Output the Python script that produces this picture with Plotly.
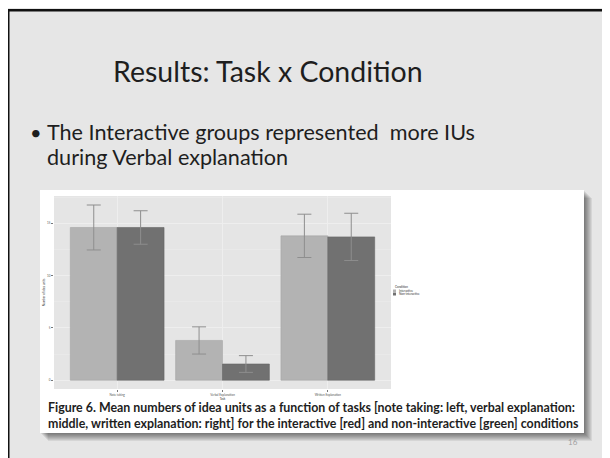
import plotly.graph_objects as go

# ---- data ----
tasks = ["Note taking", "Verbal Explanation", "Written Explanation"]
conditions = ["Interactive", "Non-interactive"]
interactive = [14.6, 3.8, 13.8]
interactive_err = [2.15, 1.3, 2.07]
noninteractive = [14.6, 1.55, 13.7]
noninteractive_err = [1.6, 0.8, 2.26]
y_ticks = [0, 5, 10, 15]

# the page body keeps its default 8px margin, so the figure fills the rest
W, H = 602, 450
OFF = 8
FONT = "Lato"


def px(x):
    return (x - OFF) / W


def py(y):
    return 1 - (y - OFF) / H


fig = go.Figure()
fig.add_trace(go.Bar(
    name=conditions[0], x=tasks, y=interactive,
    marker=dict(color="#b3b3b3", line=dict(color="#a6a6a6", width=0.6)),
    error_y=dict(type="data", array=interactive_err, color="#8e8e8e", thickness=1, width=7),
    showlegend=False,
))
fig.add_trace(go.Bar(
    name=conditions[1], x=tasks, y=noninteractive,
    marker=dict(color="#717171", line=dict(color="#666666", width=0.6)),
    error_y=dict(type="data", array=noninteractive_err, color="#8e8e8e", thickness=1, width=7),
    showlegend=False,
))

shapes = []
# shadow of the embedded picture
for k in range(1, 9):
    shapes.append(dict(type="rect", xref="paper", yref="paper", layer="below",
                       x0=px(40 + k), x1=px(584 + k), y0=py(433 + k), y1=py(190 + k),
                       line=dict(width=0), fillcolor="rgba(0,0,0,0.07)"))
# white picture
shapes.append(dict(type="rect", xref="paper", yref="paper", layer="below",
                   x0=px(40), x1=px(584), y0=py(433), y1=py(190),
                   line=dict(width=0), fillcolor="#ffffff"))
# panel background
shapes.append(dict(type="rect", xref="paper", yref="paper", layer="below",
                   x0=px(54), x1=px(391), y0=py(389), y1=py(196),
                   line=dict(width=0), fillcolor="#e5e5e5"))
# slide border (left and top)
shapes.append(dict(type="rect", xref="paper", yref="paper", layer="above",
                   x0=0, x1=px(9.5), y0=0, y1=py(9),
                   line=dict(width=0), fillcolor="#111111"))
shapes.append(dict(type="rect", xref="paper", yref="paper", layer="above",
                   x0=0, x1=1, y0=py(11.5), y1=py(9),
                   line=dict(width=0), fillcolor="#111111"))
# legend keys
shapes.append(dict(type="rect", xref="paper", yref="paper", layer="above",
                   x0=px(393), x1=px(396), y0=py(292), y1=py(289.5),
                   line=dict(width=0), fillcolor="#b3b3b3"))
shapes.append(dict(type="rect", xref="paper", yref="paper", layer="above",
                   x0=px(393), x1=px(396), y0=py(295.5), y1=py(292.5),
                   line=dict(width=0), fillcolor="#717171"))

annotations = [
    dict(text="Results: Task x Condition", x=px(267.5), y=py(71), xanchor="center", yanchor="middle",
         font=dict(family=FONT, size=28.5, color="#1e1e1e")),
    dict(text="•", x=px(28), y=py(132), xanchor="left", yanchor="middle",
         font=dict(family=FONT, size=20, color="#1e1e1e")),
    dict(text="The Interactive groups represented  more IUs", x=px(45), y=py(132), xanchor="left",
         yanchor="middle", font=dict(family=FONT, size=21.6, color="#1e1e1e")),
    dict(text="during Verbal explanation", x=px(45), y=py(157), xanchor="left",
         yanchor="middle", font=dict(family=FONT, size=21.6, color="#1e1e1e")),
    dict(text="<b>Figure 6. Mean numbers of idea units as a function of tasks [note taking: left, verbal explanation:</b>",
         x=px(46), y=py(407), xanchor="left", yanchor="middle",
         font=dict(family=FONT, size=12.4, color="#1e1e1e")),
    dict(text="<b>middle, written explanation: right] for the interactive [red] and non-interactive [green] conditions</b>",
         x=px(46), y=py(423), xanchor="left", yanchor="middle",
         font=dict(family=FONT, size=12.4, color="#1e1e1e")),
    dict(text="16", x=px(573), y=py(442), xanchor="center", yanchor="middle",
         font=dict(family=FONT, size=8, color="#a0a0a0")),
    # legend text
    dict(text="Condition", x=px(392.5), y=py(287), xanchor="left", yanchor="middle",
         font=dict(family=FONT, size=3, color="#333333")),
    dict(text=conditions[0], x=px(397), y=py(290.7), xanchor="left", yanchor="middle",
         font=dict(family=FONT, size=3, color="#333333")),
    dict(text=conditions[1], x=px(397), y=py(294), xanchor="left", yanchor="middle",
         font=dict(family=FONT, size=3, color="#333333")),
]
for a in annotations:
    a.update(xref="paper", yref="paper", showarrow=False)

fig.update_layout(
    width=W, height=H,
    margin=dict(l=0, r=0, t=0, b=0),
    paper_bgcolor="#e6e6e6",
    plot_bgcolor="rgba(0,0,0,0)",
    barmode="group", bargap=0.11, bargroupgap=0,
    shapes=shapes, annotations=annotations,
    showlegend=False,
    xaxis=dict(domain=[px(54), px(391)], range=[-0.6, 2.6], showgrid=True, gridcolor="#eeeeee",
               gridwidth=1, zeroline=False, ticks="outside", ticklen=2, tickcolor="#777777",
               tickfont=dict(family=FONT, size=3, color="#555555"),
               title=dict(text="Task", font=dict(family=FONT, size=3, color="#333333"), standoff=1)),
    yaxis=dict(domain=[py(389), py(196)], range=[-0.84, 17.61], tickvals=y_ticks, showgrid=True,
               gridcolor="#eeeeee", gridwidth=1, zeroline=False, ticks="outside", ticklen=2,
               tickcolor="#777777", tickfont=dict(family=FONT, size=3, color="#555555"),
               minor=dict(showgrid=True, gridcolor="#e9e9e9", gridwidth=0.5, dtick=2.5),
               title=dict(text="Number of idea units", font=dict(family=FONT, size=3, color="#333333"),
                          standoff=1)),
)

fig.write_html("out.html")
